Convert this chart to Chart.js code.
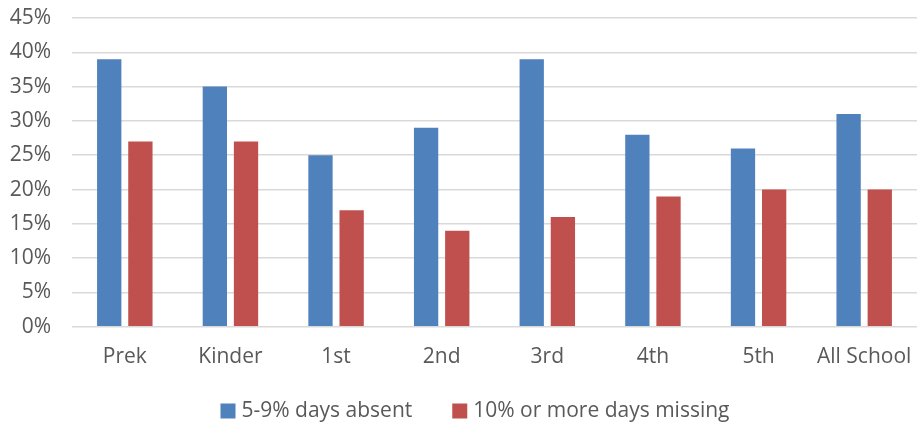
<!DOCTYPE html>
<html>
<head>
<meta charset="utf-8">
<script src="https://cdn.jsdelivr.net/npm/chart.js@4/dist/chart.umd.min.js"></script>
<style>
  html, body { margin: 0; padding: 0; background: #fff; }
  #wrap { width: 917px; height: 426px; }
</style>
</head>
<body>
<div id="wrap"><canvas id="c" width="917" height="426"></canvas></div>
<script>
// Grade levels along the x axis
const grades = ["Prek", "Kinder", "1st", "2nd", "3rd", "4th", "5th", "All School"];
// Share of students absent 5-9% of days
const absent5to9 = [0.39, 0.35, 0.25, 0.29, 0.39, 0.28, 0.26, 0.31];
// Share of students missing 10% or more of days
const missing10plus = [0.27, 0.27, 0.17, 0.14, 0.16, 0.19, 0.20, 0.20];
const seriesNames = ["5-9% days absent", "10% or more days missing"];

const FONT = "'Open Sans', sans-serif";
const TEXT = "#595959";
const SIZE = 21;

// Legend row under the axis: square swatch + dataset label, entries spaced apart
const bottomLegend = {
  id: "bottomLegend",
  afterDraw(chart) {
    const ctx = chart.ctx;
    const box = 15, boxGap = 6, itemGap = 40, centerX = 475, y = 411;
    ctx.save();
    ctx.font = SIZE + "px " + FONT;
    ctx.textBaseline = "middle";
    const items = chart.data.datasets.map(ds => ({
      text: ds.label, color: ds.backgroundColor, w: ctx.measureText(ds.label).width
    }));
    const total = items.reduce((s, it) => s + box + boxGap + it.w, 0) + itemGap * (items.length - 1);
    let x = centerX - total / 2;
    items.forEach(it => {
      ctx.fillStyle = it.color;
      ctx.fillRect(x, y - box / 2, box, box);
      x += box + boxGap;
      ctx.fillStyle = TEXT;
      ctx.fillText(it.text, x, y);
      x += it.w + itemGap;
    });
    ctx.restore();
  }
};

new Chart(document.getElementById("c"), {
  type: "bar",
  data: {
    labels: grades,
    datasets: [
      { label: seriesNames[0], data: absent5to9, backgroundColor: "#4F81BD" },
      { label: seriesNames[1], data: missing10plus, backgroundColor: "#C0504D" }
    ]
  },
  options: {
    responsive: false,
    animation: false,
    categoryPercentage: 0.59,
    barPercentage: 0.78,
    layout: { padding: { top: 18, right: 0, bottom: 46, left: 0 } },
    plugins: {
      tooltip: { enabled: false },
      legend: { display: false }
    },
    scales: {
      x: {
        grid: { display: false },
        border: { display: false },
        afterFit: (s) => { s.paddingLeft = 0; s.paddingRight = 0; },
        ticks: { color: TEXT, font: { family: FONT, size: SIZE }, padding: 10, maxRotation: 0 }
      },
      y: {
        min: 0,
        max: 0.45,
        grid: { color: "#d9d9d9", lineWidth: 1.5, drawTicks: false },
        border: { display: false },
        afterFit: (s) => { s.width = 72; s.paddingTop = 0; s.paddingBottom = 0; },
        ticks: {
          stepSize: 0.05,
          color: TEXT,
          font: { family: FONT, size: SIZE },
          padding: 21,
          callback: (v) => Math.round(v * 100) + "%"
        }
      }
    }
  },
  plugins: [bottomLegend]
});
</script>
</body>
</html>
